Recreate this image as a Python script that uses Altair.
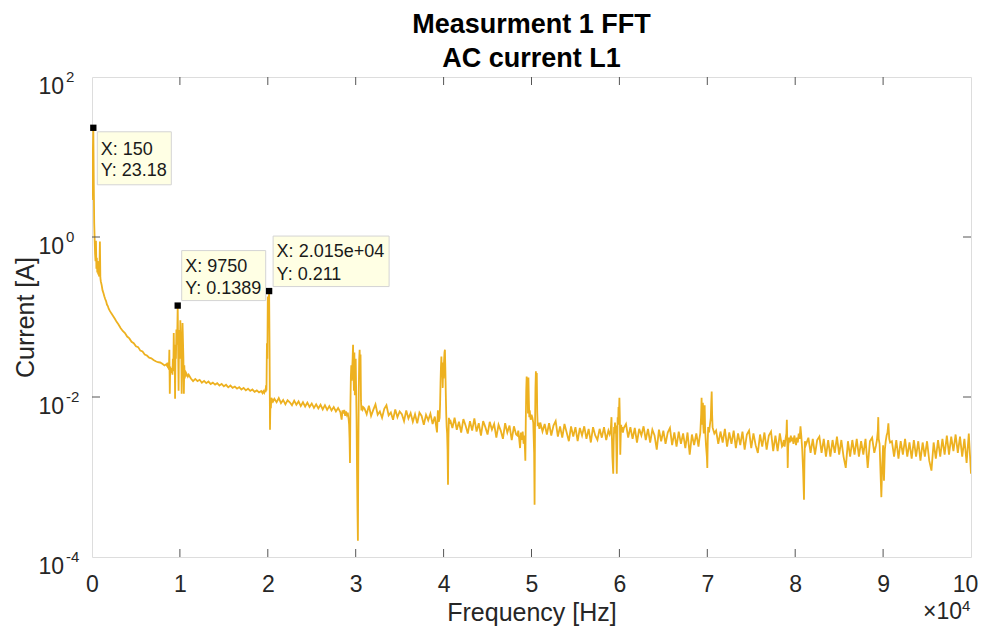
import altair as alt
import pandas as pd

# ---------------- data ----------------
# low-frequency part (Hz, A)
low_f = [0, 50, 100, 150, 200, 250, 300, 350, 400, 450, 500, 550, 600, 650, 700, 750, 800, 850, 900, 950, 1000,
         1100, 1200, 1300, 1400, 1500, 1600, 1700, 1800, 1900, 2000,
         2200, 2400, 2600, 2800, 3000,
         3250, 3500, 3750, 4000, 4250, 4500, 4750, 5000, 5250, 5500, 5750, 6000, 6250, 6500, 6750, 7000,
         7250, 7500, 7750, 8000, 8250, 8500]
low_a = [2.9, 6.0, 12.0, 23.18, 5.0, 1.5, 0.95, 0.62, 0.5, 0.9, 0.4, 0.55, 0.36, 0.5, 0.34, 0.45, 0.32, 0.4, 0.88, 0.31, 0.28,
         0.25, 0.215, 0.2, 0.182, 0.168, 0.158, 0.143, 0.137, 0.127, 0.121,
         0.111, 0.103, 0.095, 0.087, 0.081,
         0.073, 0.067, 0.063, 0.057, 0.054, 0.049, 0.047, 0.043, 0.042, 0.038, 0.037, 0.034, 0.033, 0.031, 0.0305, 0.029,
         0.028, 0.0272, 0.027, 0.026, 0.0248, 0.0258]

c10_f = [8550, 8600, 8650, 8700, 8750, 8800, 8850, 8900, 8950, 9000,
         9050, 9100, 9150, 9200, 9250, 9300, 9350, 9400, 9450, 9500,
         9550, 9600, 9650, 9700, 9750, 9800, 9850, 9900, 9950, 10000,
         10050, 10100, 10150, 10200, 10250, 10300, 10350, 10400, 10450, 10500,
         10550, 10600, 10650, 10700, 10800, 10900, 11000]
c10_a = [0.024, 0.027, 0.023, 0.025, 0.022, 0.039, 0.011, 0.024, 0.021, 0.023,
         0.02, 0.022, 0.019, 0.03, 0.021, 0.063, 0.03, 0.045, 0.0095, 0.04,
         0.03, 0.07, 0.045, 0.06, 0.1389, 0.04, 0.012, 0.05, 0.069, 0.03,
         0.091, 0.045, 0.06, 0.011, 0.04, 0.084, 0.05, 0.03, 0.011, 0.025,
         0.017, 0.021, 0.018, 0.02, 0.019, 0.018, 0.019]

b_f = list(range(11250, 19251, 250))
b_a = [0.017, 0.0158, 0.0168, 0.0158, 0.0164, 0.0151, 0.0159, 0.0149, 0.0156, 0.0145,
       0.0151, 0.0143, 0.0149, 0.0139, 0.0146, 0.0136, 0.0142, 0.0132, 0.0139, 0.013,
       0.0135, 0.0127, 0.0133, 0.0124, 0.013, 0.0121, 0.0127, 0.0119, 0.0124, 0.0116,
       0.0121, 0.0114, 0.0119]

c20_f = [19400, 19500, 19600, 19700, 19750, 19800, 19850, 19900, 19950, 20000, 20050, 20100,
         20150, 20200, 20250, 20300, 20350, 20400, 20450, 20500, 20600]
c20_a = [0.0112, 0.0118, 0.0113, 0.0122, 0.0115, 0.014, 0.012, 0.047, 0.03, 0.18, 0.09, 0.15,
         0.211, 0.04, 0.0039, 0.009, 0.0072, 0.0098, 0.0085, 0.0095, 0.0088]

d_f = list(range(20750, 28251, 250))
d_a = [0.0095, 0.0086, 0.0097, 0.0084, 0.0092, 0.0081, 0.0091, 0.0086, 0.0079, 0.009,
       0.008, 0.0088, 0.0077, 0.0086, 0.0076, 0.0085, 0.0075, 0.0083, 0.0073, 0.0081,
       0.0072, 0.008, 0.007, 0.0079, 0.0069, 0.0077, 0.0068, 0.0075, 0.0066, 0.0073,
       0.0065]

c30_f = [28400, 28500, 28600, 28700, 28800, 28900, 29000, 29100, 29200,
         29250, 29300, 29350, 29400, 29450, 29500, 29550, 29600, 29650, 29700,
         29750, 29800, 29850, 29900, 29950, 30000, 30050, 30100, 30150, 30200,
         30250, 30300, 30350, 30400, 30450, 30500, 30550, 30600, 30650, 30700,
         30800, 30900]
c30_a = [0.0052, 0.0068, 0.0062, 0.0069, 0.0058, 0.0066, 0.006, 0.0064, 0.0052,
         0.0045, 0.003, 0.0015, 0.008, 0.018, 0.025, 0.016, 0.022, 0.03, 0.045,
         0.02, 0.012, 0.036, 0.0105, 0.014, 0.03, 0.012, 0.005, 0.0012, 0.0004,
         0.00016, 0.002, 0.012, 0.03, 0.039, 0.02, 0.034, 0.009, 0.0068, 0.0078,
         0.007, 0.0074]

e_f = list(range(31000, 39251, 250))
e_a = [0.0072, 0.0061, 0.0078, 0.0058, 0.0069, 0.0081, 0.006, 0.0066, 0.0055, 0.0071,
       0.0079, 0.0059, 0.0064, 0.0052, 0.007, 0.0056, 0.0066, 0.0061, 0.005, 0.0068,
       0.0054, 0.0063, 0.0049, 0.0061, 0.0047, 0.0064, 0.0058, 0.0045, 0.006, 0.0051,
       0.0062, 0.0046, 0.0057, 0.0036]

c40_f = [39350, 39450, 39550, 39600, 39650, 39700, 39750, 39800, 39850, 39900, 39950, 40000, 40050,
         40100, 40150, 40200, 40250, 40300, 40350, 40400, 40450, 40500, 40550, 40600, 40700]
c40_a = [0.0068, 0.0049, 0.0055, 0.008, 0.015, 0.024, 0.032, 0.018, 0.027, 0.013, 0.026, 0.017, 0.028,
         0.036, 0.039, 0.022, 0.011, 0.006, 0.0042, 0.0035, 0.0022, 0.0008, 0.003, 0.0055, 0.0046]

f_f = list(range(40750, 48251, 250))
f_a = [0.0052, 0.0041, 0.0055, 0.0039, 0.0049, 0.0036, 0.0053, 0.0044, 0.0035, 0.005,
       0.0038, 0.0054, 0.0037, 0.0047, 0.0033, 0.005, 0.0042, 0.0034, 0.0049, 0.0039,
       0.0046, 0.0031, 0.0045, 0.0038, 0.003, 0.0047, 0.0036, 0.0044, 0.0029, 0.0043,
       0.0034]

c50_f = [48400, 48500, 48600, 48700, 48800, 48900, 49000, 49100, 49200, 49300,
         49350, 49400, 49450, 49500, 49550, 49600, 49650, 49700, 49750, 49800,
         49900, 50000, 50100, 50200, 50300,
         50350, 50400, 50450, 50500, 50550, 50600, 50650, 50700,
         50800, 50900]
c50_a = [0.0033, 0.0038, 0.003, 0.0023, 0.0036, 0.0029, 0.0037, 0.0026, 0.0033, 0.0016,
         0.005, 0.012, 0.018, 0.009, 0.0165, 0.0062, 0.0175, 0.009, 0.0056, 0.0068,
         0.0052, 0.006, 0.0055, 0.0048, 0.002,
         0.00045, 0.004, 0.013, 0.021, 0.01, 0.02, 0.0065, 0.0045,
         0.0046, 0.004]

g_f = list(range(51000, 58751, 250))
g_a = [0.0048, 0.0037, 0.0046, 0.0034, 0.0047, 0.0033, 0.0044, 0.005, 0.0032, 0.0043,
       0.0031, 0.0046, 0.0036, 0.0028, 0.0043, 0.0032, 0.0042, 0.0028, 0.0041, 0.0033,
       0.0043, 0.003, 0.004, 0.0027, 0.0042, 0.0033, 0.0029, 0.004, 0.0031, 0.0042,
       0.0029, 0.0038]

c60_f = [58900, 59000, 59050, 59100, 59150, 59200, 59300, 59350, 59400, 59450, 59500, 59550, 59600, 59650,
         59700, 59750, 59800, 59850, 59900, 59950, 60000, 60050, 60100, 60150, 60200, 60250, 60300, 60400]
c60_a = [0.0034, 0.0037, 0.0045, 0.0056, 0.003, 0.0018, 0.0011, 0.0028, 0.0042, 0.0035, 0.0048, 0.0038, 0.0044, 0.0025,
         0.0011, 0.0024, 0.0056, 0.0045, 0.0075, 0.0062, 0.0098, 0.0055, 0.0019, 0.0032, 0.0045, 0.0038, 0.0042, 0.0036]

h_f = list(range(60500, 69001, 250))
h_a = [0.0041, 0.0046, 0.0031, 0.0042, 0.003, 0.0041, 0.0027, 0.004, 0.0033, 0.0043,
       0.0029, 0.004, 0.0027, 0.0039, 0.0033, 0.0022, 0.0039, 0.0028, 0.0038, 0.0026,
       0.0036, 0.0041, 0.0025, 0.0036, 0.0024, 0.0037, 0.0026, 0.0035, 0.0023, 0.0036,
       0.0019, 0.0034, 0.0025, 0.0035, 0.0024]

c70_f = [69100, 69200, 69300, 69350, 69400, 69450, 69500, 69550, 69600, 69650, 69700, 69750, 69850,
         69950, 70000, 70050, 70100, 70200, 70300, 70400, 70450, 70500, 70550, 70600, 70700, 70800]
c70_a = [0.003, 0.0035, 0.006, 0.0098, 0.0045, 0.0055, 0.0085, 0.0042, 0.0035, 0.0055, 0.0079, 0.004, 0.0025,
         0.0018, 0.0013, 0.0028, 0.0042, 0.0036, 0.0045, 0.0055, 0.0085, 0.0117, 0.006, 0.0042, 0.0038, 0.0035]

i_f = list(range(71000, 78501, 250))
i_a = [0.0038, 0.0026, 0.0037, 0.0027, 0.004, 0.0024, 0.0036, 0.0026, 0.0038, 0.0023,
       0.0035, 0.0025, 0.0037, 0.0022, 0.0034, 0.0038, 0.0023, 0.0035, 0.0025, 0.002,
       0.0034, 0.0024, 0.0036, 0.0022, 0.0033, 0.0037, 0.0021, 0.0033, 0.0021, 0.0035,
       0.0024]

c80_f = [78600, 78700, 78800, 78900, 79000, 79050, 79100, 79150, 79200, 79300, 79400, 79500, 79600, 79700, 79800,
         79900, 80000, 80100, 80200, 80300, 80400, 80500, 80600, 80700, 80800, 80900, 81000, 81050, 81100, 81200]
c80_a = [0.0025, 0.0029, 0.0024, 0.003, 0.0035, 0.0052, 0.0028, 0.0013, 0.0024, 0.0031, 0.0027, 0.0033, 0.0028, 0.0031, 0.0026,
         0.0033, 0.0029, 0.0025, 0.0031, 0.0027, 0.0035, 0.003, 0.0043, 0.0032, 0.0022, 0.0012, 0.00052, 0.0015, 0.0028, 0.0025]

j_f = list(range(81500, 89001, 250))
j_a = [0.0031, 0.002, 0.003, 0.0019, 0.0029, 0.0032, 0.002, 0.003, 0.0018, 0.0029,
       0.0018, 0.0029, 0.002, 0.0032, 0.0019, 0.0029, 0.0018, 0.0013, 0.0028, 0.0018,
       0.0029, 0.0019, 0.003, 0.0018, 0.0028, 0.0019, 0.003, 0.0013, 0.0028, 0.0031,
       0.002]

c90_f = [89200, 89300, 89400, 89450, 89500, 89600, 89700, 89800, 89900, 90000, 90100, 90200, 90300,
         90400, 90500, 90600, 90700, 90800]
c90_a = [0.0025, 0.0029, 0.0038, 0.0056, 0.003, 0.0026, 0.0012, 0.00056, 0.0014, 0.0025, 0.0009, 0.0022, 0.0028,
         0.0033, 0.0036, 0.0047, 0.003, 0.0027]

k_f = list(range(91000, 100001, 250))
k_a = [0.0028, 0.0018, 0.0029, 0.0017, 0.0028, 0.0019, 0.003, 0.0018, 0.0027, 0.0017,
       0.0029, 0.0018, 0.0028, 0.0016, 0.0027, 0.0018, 0.0028, 0.0016, 0.0012, 0.0027,
       0.0017, 0.0029, 0.0018, 0.003, 0.0019, 0.0033, 0.0019, 0.0032, 0.0021, 0.0034,
       0.002, 0.0032, 0.0018, 0.003, 0.0015, 0.0035, 0.0011]

# data tips
tip_f = [150, 9750, 20150]
tip_a = [23.18, 0.1389, 0.211]
tip_x_text = ["X: 150", "X: 9750", "X: 2.015e+04"]
tip_y_text = ["Y: 23.18", "Y: 0.1389", "Y: 0.211"]

# axis ticks / labels
x_tick_values = list(range(0, 100001, 10000))
y_tick_values = [100, 1, 0.01, 0.0001]
y_tick_exp = ["2", "0", "-2", "-4"]

# ---------------- build ----------------
segments = [(low_f, low_a), (c10_f, c10_a), (b_f, b_a), (c20_f, c20_a), (d_f, d_a), (c30_f, c30_a),
            (e_f, e_a), (c40_f, c40_a), (f_f, f_a), (c50_f, c50_a), (g_f, g_a), (c60_f, c60_a),
            (h_f, h_a), (c70_f, c70_a), (i_f, i_a), (c80_f, c80_a), (j_f, j_a), (c90_f, c90_a), (k_f, k_a)]
freqs, amps = [], []
for fs, as_ in segments:
    assert len(fs) == len(as_), (fs[0], len(fs), len(as_))
    freqs += fs
    amps += as_
df = pd.DataFrame({"f": freqs, "a": amps}).sort_values("f")

W, H = 879, 480
FONT = "Liberation Sans"
AX = "#262626"
FRAME = "#555555"

xs = alt.Scale(domain=[0, 100000], nice=False, zero=False)
ys = alt.Scale(type="log", domain=[1e-4, 100], nice=False)

X = alt.X("f:Q", scale=xs)
Y = alt.Y("a:Q", scale=ys)

line = alt.Chart(df).mark_line(color="#EDB120", strokeWidth=1.8, clip=True).encode(
    x=alt.X("f:Q", scale=xs, axis=alt.Axis(
        values=x_tick_values, labelExpr="'' + (datum.value / 10000)", ticks=False, tickSize=0,
        domain=False, grid=False, labelFlush=False, labelOverlap=False, labelBound=False,
        labelOffset={"condition": {"test": "datum.value >= 100000", "value": -6}, "value": 0},
        labelFontSize=23, labelFont=FONT, labelColor=AX, labelBaseline="alphabetic", labelPadding=34,
        title="Frequency [Hz]", titleFontSize=25, titleFont=FONT, titleColor=AX, titleFontWeight="normal",
        titleBaseline="alphabetic", titleY=63)),
    y=alt.Y("a:Q", scale=ys, axis=alt.Axis(
        labels=False, ticks=False, tickSize=0, domain=False, grid=False,
        title="Current [A]", titleFontSize=25, titleFont=FONT, titleColor=AX, titleFontWeight="normal",
        titleBaseline="alphabetic", titleAngle=-90, titleAlign="center", titleX=-59, titleY=H / 2)),
)

xt_df = pd.DataFrame({"f": x_tick_values[1:-1]})
yt_df = pd.DataFrame({"a": y_tick_values[1:-1]})
tick_style = dict(color=FRAME, strokeWidth=1)
xt_bottom = alt.Chart(xt_df).mark_rule(**tick_style).encode(x=X, y=alt.value(H), y2=alt.value(H - 8))
xt_top = alt.Chart(xt_df).mark_rule(**tick_style).encode(x=X, y=alt.value(0), y2=alt.value(8))
yt_left = alt.Chart(yt_df).mark_rule(**tick_style).encode(y=Y, x=alt.value(0), x2=alt.value(8))
yt_right = alt.Chart(yt_df).mark_rule(**tick_style).encode(y=Y, x=alt.value(W), x2=alt.value(W - 8))

yl_df = pd.DataFrame({"a": y_tick_values, "e": y_tick_exp, "b": ["10"] * 4})
yl_base = alt.Chart(yl_df).mark_text(align="right", baseline="alphabetic", dy=16.5, fontSize=23,
                                     font=FONT, color=AX).encode(y=Y, x=alt.value(-28), text="b:N")
yl_exp = alt.Chart(yl_df).mark_text(align="left", baseline="alphabetic", dy=5, fontSize=15,
                                    font=FONT, color=AX).encode(y=Y, x=alt.value(-26), text="e:N")

mult_df = pd.DataFrame({"t": ["\u00d710"], "e": ["4"]})
mult_base = alt.Chart(mult_df).mark_text(align="right", baseline="alphabetic", fontSize=23,
                                         font=FONT, color=AX).encode(
    x=alt.value(W - 9), y=alt.value(H + 62), text="t:N")
mult_exp = alt.Chart(mult_df).mark_text(align="left", baseline="alphabetic", fontSize=15,
                                        font=FONT, color=AX).encode(
    x=alt.value(W - 9), y=alt.value(H + 54), text="e:N")

tips_df = pd.DataFrame({"f": tip_f, "a": tip_a, "tx": tip_x_text, "ty": tip_y_text})
# box layout per tip: left, right, top, bottom offsets (px from the point), text dx, dy of line 1, dy of line 2
tip_layout = [(4, 78, 4, 57, 7.5, 27, 48),
              (4, 88, -55, -5, 7.5, -34, -12),
              (4, 120, -55, -4.5, 7.5, -34.5, -11.5)]
tip_layers = []
for i, (l, r, t, b, tdx, dy1, dy2) in enumerate(tip_layout):
    one = tips_df.iloc[[i]]
    box = alt.Chart(one).mark_rect(fill="#FFFFE4", stroke="#D4D4D4", strokeWidth=1,
                                   xOffset=l, x2Offset=r, yOffset=t, y2Offset=b).encode(
        x=X, y=Y, x2="f:Q", y2="a:Q")
    txt1 = alt.Chart(one).mark_text(align="left", baseline="alphabetic", dx=tdx, dy=dy1, fontSize=18,
                                    font=FONT, color="#1a1a1a").encode(x=X, y=Y, text="tx:N")
    txt2 = alt.Chart(one).mark_text(align="left", baseline="alphabetic", dx=tdx, dy=dy2, fontSize=18,
                                    font=FONT, color="#1a1a1a").encode(x=X, y=Y, text="ty:N")
    tip_layers += [box, txt1, txt2]

markers = alt.Chart(tips_df).mark_square(size=40, color="black", opacity=1, filled=True).encode(x=X, y=Y)

chart = alt.layer(
    line, xt_bottom, xt_top, yt_left, yt_right, yl_base, yl_exp, mult_base, mult_exp,
    *tip_layers, markers
).properties(
    width=W, height=H,
    autosize=alt.AutoSizeParams(type="none"),
    padding={"left": 84, "top": 69, "right": 9, "bottom": 69},
    title=alt.TitleParams(text=["Measurment 1 FFT", "AC current L1"], fontSize=27, fontWeight="bold",
                          font=FONT, color="black", lineHeight=34, anchor="middle", offset=-3),
).configure_view(stroke=FRAME, strokeWidth=1).configure(background="white")

chart.save("out.html", embed_options={"renderer": "svg", "actions": False})
